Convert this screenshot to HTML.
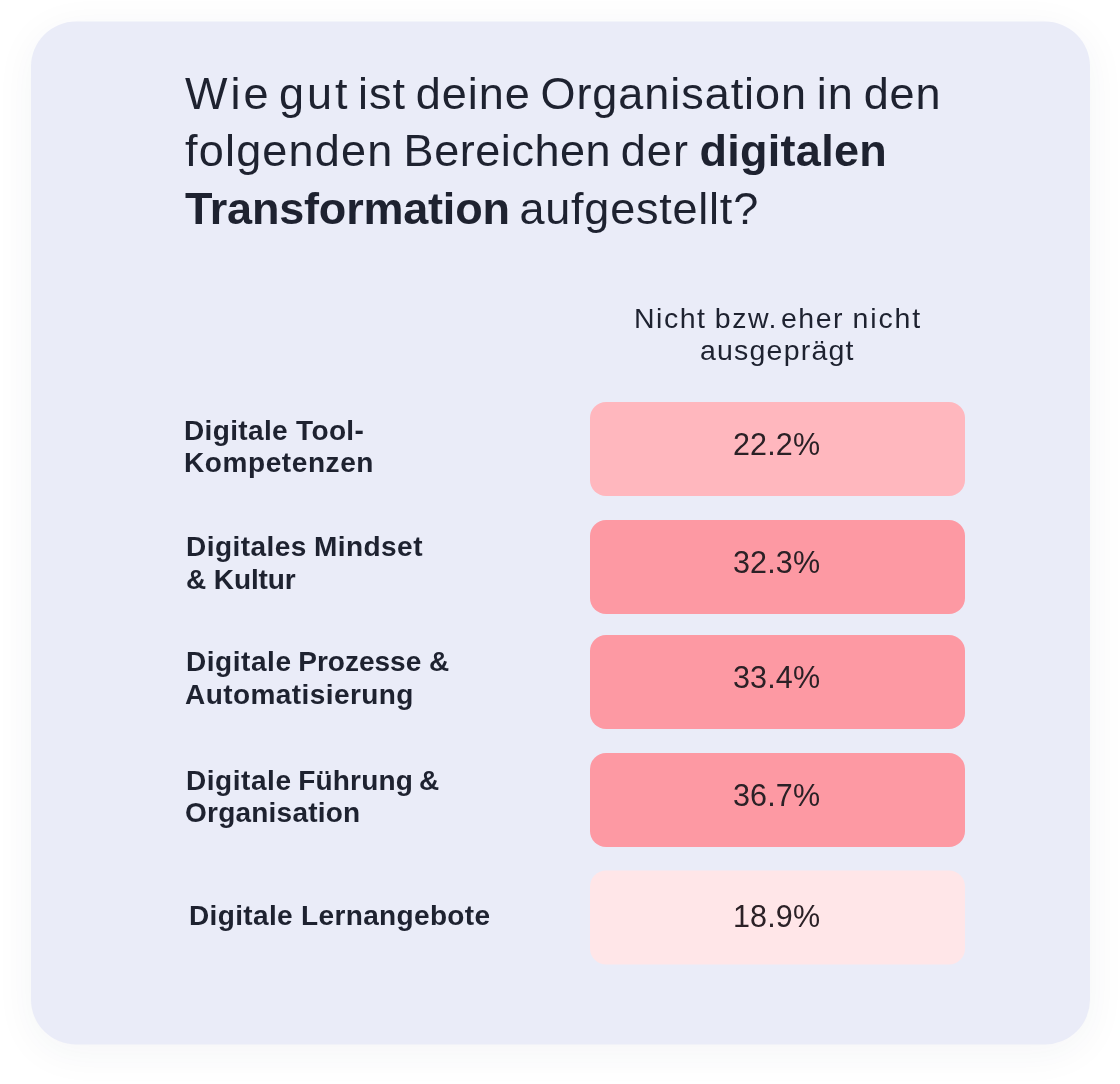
<!DOCTYPE html>
<html lang="de">
<head>
<meta charset="utf-8">
<title>Digitale Transformation</title>
<style>
  html, body { margin: 0; padding: 0; }
  body {
    width: 1120px; height: 1084px; background: #ffffff; overflow: hidden; position: relative;
    font-family: "Liberation Sans", sans-serif; color: #1e2230;
    -webkit-font-smoothing: antialiased;
  }
  .card {
    position: absolute; left: 31px; top: 21px; width: 1059px; height: 1023px;
    background: #eaecf8; border-radius: 45px;
    box-shadow: 0 8px 40px rgba(40, 50, 80, 0.05);
    transform: translateY(0.5px);
  }
  .t { position: absolute; white-space: nowrap; line-height: 1; margin: 0; will-change: transform; }
  .title { font-size: 45px; left: 184.5px; letter-spacing: 1.2px; word-spacing: -4.6px; }
  .title b { font-weight: 700; letter-spacing: 0.1px; }
  .hdr { font-size: 28.5px; letter-spacing: 1.2px; }
  .lbl { font-size: 28px; font-weight: 700; }
  .box {
    position: absolute; left: 590px; width: 375px; height: 94px; border-radius: 16px;
    display: flex; align-items: center; justify-content: center;
    font-size: 30.5px; line-height: 1; letter-spacing: 0.15px; color: #2b2126;
    box-sizing: border-box; padding-bottom: 9px; padding-right: 1px;
  }
  .box span { display: block; will-change: transform; }
  .c1 { background: #ffb7be; }
  .c2 { background: #fd99a3; }
  .c5 { background: #ffe6e8; }
</style>
</head>
<body>
<div class="card"></div>

<div class="t title" id="t1" style="top:71px"><span style="letter-spacing:3px;word-spacing:-8px">Wie gut </span><span style="letter-spacing:0.95px;word-spacing:-3.6px">ist deine Organisation in den</span></div>
<div class="t title" id="t2" style="top:128px;word-spacing:-3.6px">folgenden <span style="letter-spacing:0.55px">Bereichen </span>der <b style="letter-spacing:0.3px">digitalen</b></div>
<div class="t title" id="t3" style="top:186px"><b style="letter-spacing:-0.2px">Transformation</b><span style="letter-spacing:0.78px;margin-left:1px"> aufgestellt?</span></div>

<div class="t hdr" id="h1" style="left:633.5px; top:304px"><span style="letter-spacing:1.5px;word-spacing:-1px">Nicht bzw.</span><span style="word-spacing:-6px"> </span><span style="letter-spacing:1.5px;word-spacing:-1px">eher </span><span style="letter-spacing:1.9px">nicht</span></div>
<div class="t hdr" id="h2" style="left:700px; top:336px">ausgeprägt</div>

<div class="t lbl" id="l1a" style="left:184px; top:417px; letter-spacing:0.35px">Digitale Tool-</div>
<div class="t lbl" id="l1b" style="left:184px; top:449px; letter-spacing:0.59px">Kompetenzen</div>
<div class="box c1" id="b1" style="top:402px"><span>22.2%</span></div>

<div class="t lbl" id="l2a" style="left:185.5px; top:533px; letter-spacing:0.45px; word-spacing:-1px">Digitales Mindset</div>
<div class="t lbl" id="l2b" style="left:186px; top:566px; letter-spacing:-0.1px">&amp; Kultur</div>
<div class="box c2" id="b2" style="top:520px"><span>32.3%</span></div>

<div class="t lbl" id="l3a" style="left:185.5px; top:648px"><span style="letter-spacing:0.55px;word-spacing:-1.6px">Digitale </span>Prozesse &amp;</div>
<div class="t lbl" id="l3b" style="left:185.3px; top:681px; letter-spacing:0.43px">Automatisierung</div>
<div class="box c2" id="b3" style="top:635px"><span>33.4%</span></div>

<div class="t lbl" id="l4a" style="left:185.5px; top:766.5px"><span style="letter-spacing:0.55px;word-spacing:-1.6px">Digitale </span><span style="letter-spacing:0.17px;word-spacing:-2px">Führung &amp;</span></div>
<div class="t lbl" id="l4b" style="left:185.3px; top:799px; letter-spacing:0.23px">Organisation</div>
<div class="box c2" id="b4" style="top:753px"><span>36.7%</span></div>

<div class="t lbl" id="l5a" style="left:189px; top:902px; letter-spacing:0.35px">Digitale Lernangebote</div>
<div class="box c5" id="b5" style="top:870px; padding-bottom:3.5px; transform:translateY(0.5px)"><span>18.9%</span></div>
</body>
</html>
